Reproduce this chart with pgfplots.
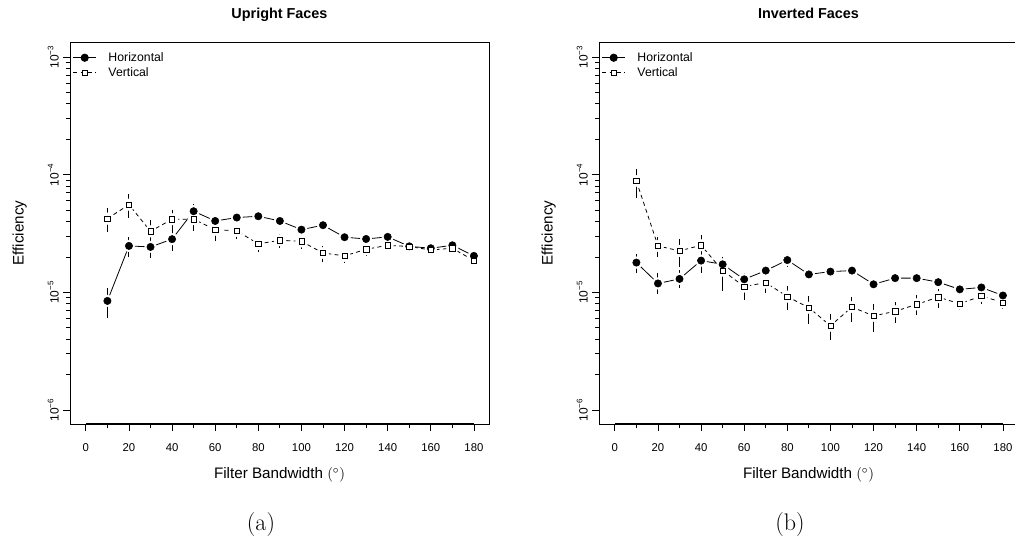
\documentclass[border=0pt]{standalone}
\usepackage{fontspec}
\setmainfont{Liberation Sans}
\newfontfamily\lmr{Latin Modern Roman}
\usepackage{pgfplots}
\pgfplotsset{compat=1.18}
\usepackage{pgfplotstable}

\pgfplotstableread{
x y ep em
10 8.45e-6 2.35e-6 2.45e-6
20 2.48e-5 4.9e-6 4.9e-6
30 2.43e-5 4.5e-6 4.8e-6
40 2.83e-5 5.0e-6 5.7e-6
50 4.89e-5 7.2e-6 6.2e-6
60 4.04e-5 3.6e-6 3.8e-6
70 4.32e-5 3.5e-6 3.5e-6
80 4.43e-5 4.0e-6 4.0e-6
90 4.04e-5 2.5e-6 2.5e-6
100 3.41e-5 2.5e-6 2.5e-6
110 3.72e-5 2.0e-6 2.0e-6
120 2.94e-5 2.0e-6 2.0e-6
130 2.84e-5 2.0e-6 2.0e-6
140 2.96e-5 2.0e-6 2.0e-6
150 2.46e-5 1.5e-6 1.5e-6
160 2.37e-5 1.5e-6 1.5e-6
170 2.51e-5 1.5e-6 1.5e-6
180 2.04e-5 1.5e-6 1.5e-6
}\aH
\pgfplotstableread{
x y ep em
10 4.23e-5 9.5e-6 9.5e-6
20 5.56e-5 1.29e-5 1.24e-5
30 3.30e-5 8.2e-6 6.0e-6
40 4.18e-5 8.2e-6 8.4e-6
50 4.18e-5 6.7e-6 8.4e-6
60 3.41e-5 4.6e-6 6.6e-6
70 3.33e-5 4.1e-6 5.1e-6
80 2.58e-5 3.4e-6 3.8e-6
90 2.77e-5 3.6e-6 4.0e-6
100 2.71e-5 4.2e-6 3.9e-6
110 2.16e-5 3.3e-6 3.5e-6
120 2.04e-5 2.5e-6 2.7e-6
130 2.32e-5 2.6e-6 2.8e-6
140 2.51e-5 2.7e-6 2.5e-6
150 2.45e-5 2.0e-6 2.0e-6
160 2.29e-5 1.5e-6 1.5e-6
170 2.37e-5 1.5e-6 1.5e-6
180 1.86e-5 1.5e-6 1.5e-6
}\aV
\pgfplotstableread{
x y ep em
10 1.79e-5 3.2e-6 3.2e-6
20 1.19e-5 2.6e-6 2.2e-6
30 1.30e-5 2.5e-6 2.2e-6
40 1.86e-5 4.0e-6 3.9e-6
50 1.73e-5 2.8e-6 2.8e-6
60 1.29e-5 1.6e-6 1.5e-6
70 1.53e-5 1.7e-6 1.6e-6
80 1.88e-5 2.3e-6 2.5e-6
90 1.42e-5 1.3e-6 1.3e-6
100 1.50e-5 1.5e-6 1.5e-6
110 1.53e-5 1.5e-6 1.5e-6
120 1.17e-5 1.2e-6 1.2e-6
130 1.32e-5 1.3e-6 1.3e-6
140 1.32e-5 1.2e-6 1.2e-6
150 1.22e-5 1.4e-6 1.4e-6
160 1.06e-5 1.0e-6 1.0e-6
170 1.10e-5 1.0e-6 1.0e-6
180 9.4e-6 1.0e-6 1.0e-6
}\bH
\pgfplotstableread{
x y ep em
10 8.83e-5 2.27e-5 2.53e-5
20 2.48e-5 4.6e-6 4.7e-6
30 2.25e-5 5.8e-6 6.2e-6
40 2.51e-5 5.4e-6 5.2e-6
50 1.53e-5 4.8e-6 5.0e-6
60 1.12e-5 1.5e-6 2.6e-6
70 1.21e-5 1.3e-6 2.3e-6
80 9.2e-6 2.1e-6 2.1e-6
90 7.4e-6 1.9e-6 2.0e-6
100 5.2e-6 1.3e-6 1.25e-6
110 7.5e-6 1.7e-6 1.9e-6
120 6.3e-6 1.7e-6 1.7e-6
130 6.9e-6 1.3e-6 1.4e-6
140 7.9e-6 1.6e-6 1.5e-6
150 9.1e-6 1.5e-6 1.7e-6
160 8.0e-6 0.9e-6 0.9e-6
170 9.3e-6 1.5e-6 1.4e-6
180 8.2e-6 1.2e-6 1.0e-6
}\bV

\tikzset{
  hlinestyle/.style={black, line width=0.6pt, solid},
  vlinestyle/.style={black, line width=0.6pt, dash pattern=on 3pt off 2.5pt},
}

\begin{document}
\begin{tikzpicture}
\useasboundingbox (0pt,0pt) rectangle (761.25pt,-408pt);

\begin{axis}[
    at={(52.5pt,-31.5pt)}, anchor=north west,
    width=314.25pt, height=286.5pt, scale only axis,
    xmin=-7.35, xmax=187,
    ymode=log, ymin=7.6e-7, ymax=1.34e-3,
    xtick={0,20,...,180}, minor xtick={10,30,...,170},
    ytick={1e-6,1e-5,1e-4,1e-3},
    yticklabels={10\textsuperscript{−6},10\textsuperscript{−5},10\textsuperscript{−4},10\textsuperscript{−3}},
    minor ytick={2e-6,3e-6,4e-6,5e-6,6e-6,7e-6,8e-6,9e-6,2e-5,3e-5,4e-5,5e-5,6e-5,7e-5,8e-5,9e-5,2e-4,3e-4,4e-4,5e-4,6e-4,7e-4,8e-4,9e-4},
    tick align=outside, xtick pos=lower, ytick pos=left,
    major tick length=5pt, minor tick length=3pt,
    tick style={black, line width=0.6pt},
    axis line style={line width=0.6pt, black},
    /pgf/number format/assume math mode=true,
    tick label style={font=\fontsize{8.5}{10}\selectfont},
    xticklabel style={yshift=-6.5pt},
    yticklabel style={rotate=90, anchor=south, font=\fontsize{9}{10}\selectfont},
    title={Upright Faces},
    title style={at={(0.5,1.0406)}, anchor=base, font=\fontsize{10.8}{12}\selectfont\bfseries},
    xlabel={Filter Bandwidth $(^\circ)$},
    ylabel={Efficiency},
    xlabel style={at={(0.5,-0.1335)}, anchor=center, font=\fontsize{11.4}{13}\selectfont},
    ylabel style={at={(-0.12,0.5)}, anchor=center, font=\fontsize{11.4}{13}\selectfont},
    legend style={at={(0,1)}, anchor=north west, xshift=-1pt, yshift=-3.5pt,
                  draw=none, fill=none, row sep=-0.8pt, column sep=7pt,
                  font=\fontsize{9.2}{11}\selectfont},
    legend cell align=left,
]
\addlegendimage{hlinestyle, mark=*, mark size=2.75pt, mark options={fill=black}}
\addlegendentry{Horizontal}
\addlegendimage{vlinestyle, mark=square*, mark size=2pt, mark options={fill=white, solid}}
\addlegendentry{Vertical}
\draw[black, line width=1.1pt] (axis cs:0,7.6e-7) -- (axis cs:180,7.6e-7);
\addplot[hlinestyle, forget plot] table[x=x, y=y] {\aH};
\addplot[only marks, mark=*, mark size=4.3pt, draw=white, fill=white, forget plot] table[x=x, y=y] {\aH};
\addplot[vlinestyle, forget plot] table[x=x, y=y] {\aV};
\addplot[only marks, mark=*, mark size=4.3pt, draw=white, fill=white, forget plot] table[x=x, y=y] {\aV};
\addplot[only marks, mark=*, mark size=2.75pt, black, mark options={fill=black}, forget plot,
  error bars/.cd, y dir=both, y explicit, error mark=none, error bar style={line width=0.75pt, black, solid}]
  table[x=x, y=y, y error plus=ep, y error minus=em] {\aH};
\addplot[only marks, mark=square*, mark size=2pt, black, mark options={fill=white, solid}, forget plot,
  error bars/.cd, y dir=both, y explicit, error mark=none, error bar style={line width=0.75pt, black, solid}]
  table[x=x, y=y, y error plus=ep, y error minus=em] {\aV};
\end{axis}

\begin{axis}[
    at={(449.25pt,-31.5pt)}, anchor=north west,
    width=314.25pt, height=286.5pt, scale only axis,
    xmin=-7.35, xmax=187,
    ymode=log, ymin=7.6e-7, ymax=1.34e-3,
    xtick={0,20,...,180}, minor xtick={10,30,...,170},
    ytick={1e-6,1e-5,1e-4,1e-3},
    yticklabels={10\textsuperscript{−6},10\textsuperscript{−5},10\textsuperscript{−4},10\textsuperscript{−3}},
    minor ytick={2e-6,3e-6,4e-6,5e-6,6e-6,7e-6,8e-6,9e-6,2e-5,3e-5,4e-5,5e-5,6e-5,7e-5,8e-5,9e-5,2e-4,3e-4,4e-4,5e-4,6e-4,7e-4,8e-4,9e-4},
    tick align=outside, xtick pos=lower, ytick pos=left,
    major tick length=5pt, minor tick length=3pt,
    tick style={black, line width=0.6pt},
    axis line style={line width=0.6pt, black},
    /pgf/number format/assume math mode=true,
    tick label style={font=\fontsize{8.5}{10}\selectfont},
    xticklabel style={yshift=-6.5pt},
    yticklabel style={rotate=90, anchor=south, font=\fontsize{9}{10}\selectfont},
    title={Inverted Faces},
    title style={at={(0.5,1.0406)}, anchor=base, font=\fontsize{10.8}{12}\selectfont\bfseries},
    xlabel={Filter Bandwidth $(^\circ)$},
    ylabel={Efficiency},
    xlabel style={at={(0.5,-0.1335)}, anchor=center, font=\fontsize{11.4}{13}\selectfont},
    ylabel style={at={(-0.12,0.5)}, anchor=center, font=\fontsize{11.4}{13}\selectfont},
    legend style={at={(0,1)}, anchor=north west, xshift=-1pt, yshift=-3.5pt,
                  draw=none, fill=none, row sep=-0.8pt, column sep=7pt,
                  font=\fontsize{9.2}{11}\selectfont},
    legend cell align=left,
]
\addlegendimage{hlinestyle, mark=*, mark size=2.75pt, mark options={fill=black}}
\addlegendentry{Horizontal}
\addlegendimage{vlinestyle, mark=square*, mark size=2pt, mark options={fill=white, solid}}
\addlegendentry{Vertical}
\draw[black, line width=1.1pt] (axis cs:0,7.6e-7) -- (axis cs:180,7.6e-7);
\addplot[hlinestyle, forget plot] table[x=x, y=y] {\bH};
\addplot[only marks, mark=*, mark size=4.3pt, draw=white, fill=white, forget plot] table[x=x, y=y] {\bH};
\addplot[vlinestyle, forget plot] table[x=x, y=y] {\bV};
\addplot[only marks, mark=*, mark size=4.3pt, draw=white, fill=white, forget plot] table[x=x, y=y] {\bV};
\addplot[only marks, mark=*, mark size=2.75pt, black, mark options={fill=black}, forget plot,
  error bars/.cd, y dir=both, y explicit, error mark=none, error bar style={line width=0.75pt, black, solid}]
  table[x=x, y=y, y error plus=ep, y error minus=em] {\bH};
\addplot[only marks, mark=square*, mark size=2pt, black, mark options={fill=white, solid}, forget plot,
  error bars/.cd, y dir=both, y explicit, error mark=none, error bar style={line width=0.75pt, black, solid}]
  table[x=x, y=y, y error plus=ep, y error minus=em] {\bV};
\end{axis}

\node[font=\fontsize{18}{20}\selectfont\lmr] at (195.75pt,-393.75pt) {(a)};
\node[font=\fontsize{18}{20}\selectfont\lmr] at (592.5pt,-393.75pt) {(b)};
\end{tikzpicture}
\end{document}
